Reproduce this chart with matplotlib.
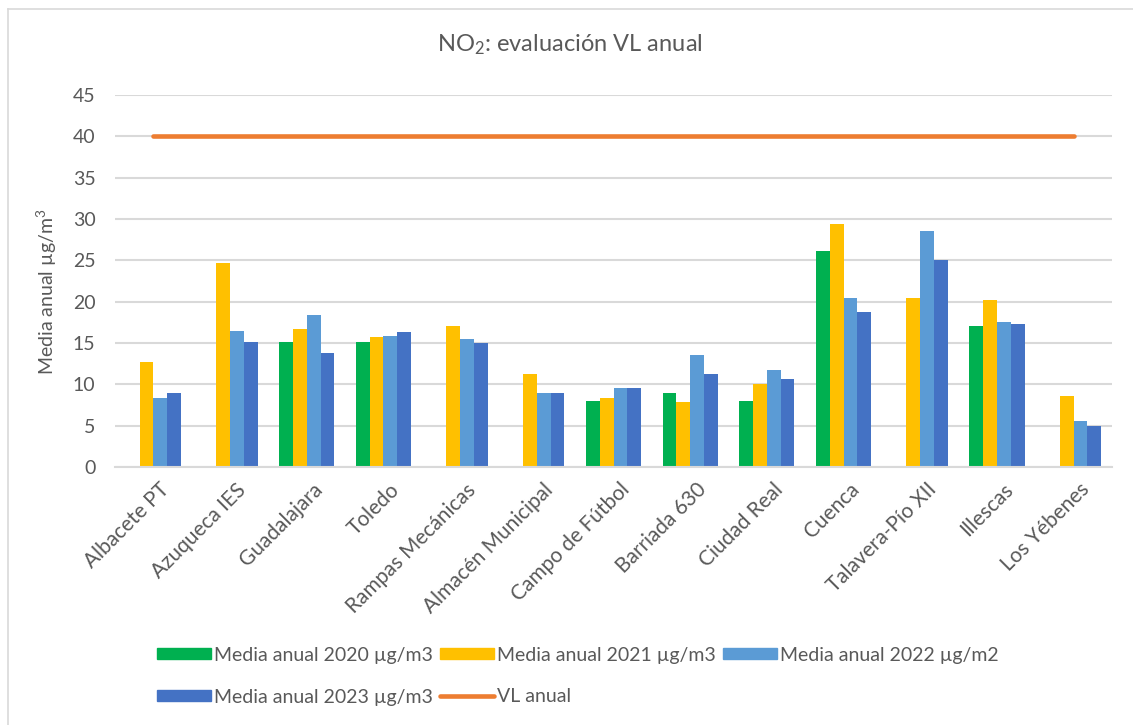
import matplotlib
matplotlib.use("Agg")
import matplotlib.pyplot as plt
import matplotlib.transforms as mtransforms
import numpy as np
from matplotlib.patches import Patch
from matplotlib.lines import Line2D

stations = ["Albacete PT", "Azuqueca IES", "Guadalajara", "Toledo", "Rampas Mecánicas",
            "Almacén Municipal", "Campo de Fútbol", "Barriada 630", "Ciudad Real",
            "Cuenca", "Talavera-Pío XII", "Illescas", "Los Yébenes"]
nan = np.nan
media_2020 = [nan, nan, 15.1, 15.1, nan, nan, 8.0, 9.0, 8.0, 26.1, nan, 17.1, nan]
media_2021 = [12.7, 24.7, 16.7, 15.7, 17.0, 11.2, 8.4, 7.9, 10.1, 29.4, 20.4, 20.2, 8.6]
media_2022 = [8.4, 16.5, 18.4, 15.9, 15.5, 9.0, 9.5, 13.6, 11.7, 20.5, 28.5, 17.6, 5.6]
media_2023 = [8.9, 15.1, 13.8, 16.3, 15.0, 8.9, 9.5, 11.2, 10.7, 18.8, 25.0, 17.3, 5.0]
vl_anual = [40] * len(stations)

series_labels = ["Media anual 2020 µg/m3", "Media anual 2021 µg/m3",
                 "Media anual 2022 µg/m2", "Media anual 2023 µg/m3"]
colors = ["#00B050", "#FFC000", "#5B9BD5", "#4472C4"]
vl_color = "#ED7D31"
text_col = "#595959"
grid_col = "#D9D9D9"

plt.rcParams["font.family"] = ["Lato", "DejaVu Sans"]
plt.rcParams["mathtext.fontset"] = "custom"
plt.rcParams["mathtext.rm"] = "Lato"
plt.rcParams["mathtext.it"] = "Lato:italic"

W, H = 1133, 725
fig = plt.figure(figsize=(W / 100, H / 100), dpi=100)
ax = fig.add_axes([115 / W, 1 - 467 / H, (1112 - 115) / W, (467 - 95) / H])

x = np.arange(len(stations))
bw = 0.18
for i, (vals, c) in enumerate(zip([media_2020, media_2021, media_2022, media_2023], colors)):
    ax.bar(x + (i - 1.5) * bw, vals, width=bw, color=c, edgecolor="none", zorder=2)

ax.plot(x, vl_anual, color=vl_color, lw=3.3, solid_capstyle="round", zorder=3)

ax.set_xlim(-0.5, len(stations) - 0.5)
ax.set_ylim(0, 45)
ax.set_yticks(range(0, 46, 5))
ax.yaxis.grid(True, color=grid_col, lw=1.5, zorder=0)
ax.set_axisbelow(True)
for s in ["top", "right", "left"]:
    ax.spines[s].set_visible(False)
ax.spines["bottom"].set_color(grid_col)
ax.spines["bottom"].set_linewidth(1.5)
ax.tick_params(axis="both", length=0, colors=text_col, labelsize=14)
ax.tick_params(axis="y", pad=14)
ax.set_xticks(x)
ax.set_xticklabels(stations, rotation=45, ha="right", rotation_mode="anchor", fontsize=15)
ax.tick_params(axis="x", pad=9)
# nudge rotated labels a little to the right, like Excel does
shift = mtransforms.ScaledTranslation(6 / 100, 0, fig.dpi_scale_trans)
for lab in ax.get_xticklabels():
    lab.set_transform(lab.get_transform() + shift)

ax.set_ylabel("Media anual µg/m$^{3}$", color=text_col, fontsize=14)
ax.yaxis.set_label_coords(-0.056, 0.47)
fig.text(0.503, 1 - 45 / H, "NO$_2$: evaluación VL anual", color=text_col,
         fontsize=17, ha="center", va="center")

# legend, two rows like the original
row1 = [Patch(color=c) for c in colors[:3]]
row2 = [Patch(color=colors[3]),
        Line2D([], [], color=vl_color, lw=3.3, solid_capstyle="round")]
leg_kw = dict(frameon=False, fontsize=14, labelcolor=text_col, handlelength=2.8,
              handleheight=0.55, handletextpad=0.15, columnspacing=0.35,
              borderpad=0, borderaxespad=0, loc="center left")
fig.legend(row1, series_labels[:3], ncol=3,
           bbox_to_anchor=(157 / W, 1 - 655 / H), **leg_kw)
fig.legend(row2, [series_labels[3], "VL anual"], ncol=2,
           bbox_to_anchor=(157 / W, 1 - 697 / H), **leg_kw)

# chart area border (only left / top visible in the crop)
fig.add_artist(Line2D([7.5 / W, 7.5 / W], [0, 1 - 9 / H], color=grid_col, lw=1.2))
fig.add_artist(Line2D([7.5 / W, 1], [1 - 9 / H, 1 - 9 / H], color=grid_col, lw=1.2))

fig.savefig("out.png", dpi=100, facecolor="white")
